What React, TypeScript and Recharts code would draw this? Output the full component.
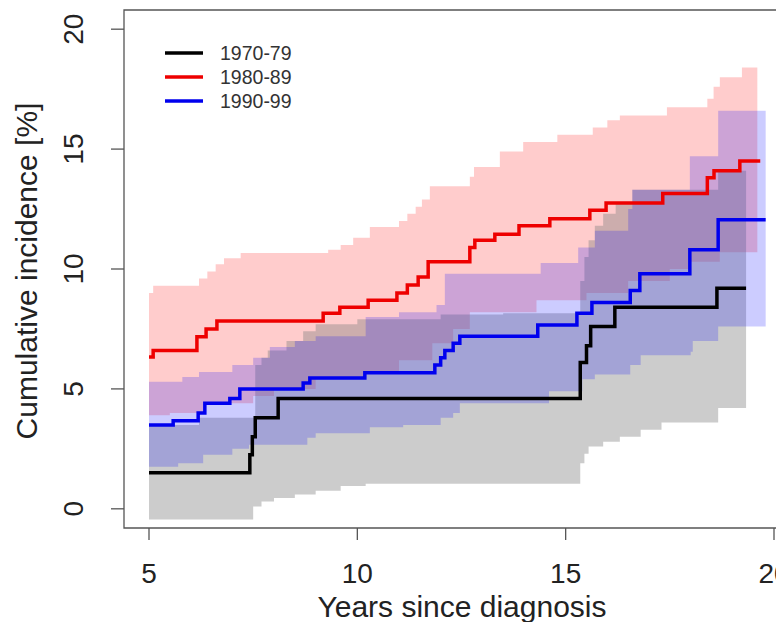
import { ComposedChart, Area, Line, XAxis, YAxis, ReferenceArea, Legend } from "recharts";

const FONT = '"Liberation Sans", Arial, sans-serif';

type Pt = [number, number];

const periods = ["1970-79", "1980-89", "1990-99"];
const lineColors = ["#000000", "#ee0000", "#0000ee"];
const xTicks = [5, 10, 15, 20];
const yTicks = [0, 5, 10, 15, 20];

// cumulative incidence step curves [years, %]
const line7079: Pt[] = [
  [5, 1.5], [7.42, 2.25], [7.48, 3.0], [7.55, 3.8], [8.1, 4.6], [15.35, 6.1], [15.5, 6.8],
  [15.6, 7.6], [16.18, 8.4], [18.63, 9.2], [19.33, 9.2],
];
const line8089: Pt[] = [
  [5, 6.33], [5.1, 6.6], [6.15, 7.17], [6.37, 7.5], [6.63, 7.83], [9.18, 8.15], [9.58, 8.4],
  [10.26, 8.7], [10.95, 9.0], [11.2, 9.33], [11.46, 9.67], [11.7, 10.3], [12.7, 10.9],
  [12.82, 11.2], [13.3, 11.45], [13.88, 11.8], [14.62, 12.1], [15.58, 12.45], [15.97, 12.75],
  [17.33, 13.15], [18.4, 13.8], [18.56, 14.1], [19.18, 14.5], [19.67, 14.5],
];
const line9099: Pt[] = [
  [5, 3.5], [5.58, 3.67], [6.18, 4.0], [6.34, 4.4], [6.94, 4.6], [7.18, 5.0], [8.7, 5.25],
  [8.86, 5.45], [10.18, 5.67], [11.86, 6.0], [12.0, 6.3], [12.1, 6.6], [12.3, 6.9],
  [12.46, 7.2], [14.33, 7.67], [15.27, 8.15], [15.63, 8.6], [16.55, 9.1], [16.78, 9.8],
  [17.98, 10.8], [18.66, 12.05], [19.8, 12.05],
];

// confidence bands, lower / upper step bounds
const lo7079: Pt[] = [
  [5, -0.45], [7.5, 0.1], [7.7, 0.3], [8.0, 0.45], [8.5, 0.6], [9.0, 0.75], [9.6, 0.95],
  [10.2, 1.05], [15.35, 1.9], [15.45, 2.3], [15.55, 2.6], [15.9, 2.8], [16.3, 3.0],
  [16.8, 3.3], [17.3, 3.6], [18.66, 4.2], [19.33, 4.2],
];
const hi7079: Pt[] = [
  [5, 3.5], [6.2, 3.8], [7.55, 6.0], [7.7, 6.3], [7.85, 6.6], [8.3, 7.0], [8.7, 7.4],
  [9.0, 7.7], [10.0, 7.9], [12.0, 8.1], [13.5, 8.15], [15.35, 9.5], [15.45, 10.5],
  [15.55, 11.2], [15.7, 11.8], [15.9, 12.3], [16.2, 12.75], [16.6, 13.3], [18.66, 14.1],
  [19.33, 14.1],
];
const lo8089: Pt[] = [
  [5, 3.9], [5.5, 4.0], [6.3, 4.4], [7.5, 4.7], [8.0, 5.0], [9.0, 5.4], [10.2, 5.7],
  [11.0, 6.2], [11.8, 6.9], [12.3, 7.5], [12.7, 8.2], [14.3, 8.7], [15.5, 9.0], [16.5, 9.5],
  [17.5, 10.0], [18.0, 10.3], [18.7, 10.7], [19.6, 10.7],
];
const hi8089: Pt[] = [
  [5, 9.0], [5.1, 9.3], [6.2, 9.6], [6.4, 9.9], [6.6, 10.2], [6.8, 10.45], [7.2, 10.67],
  [9.3, 10.8], [9.6, 11.0], [9.9, 11.3], [10.3, 11.75], [11.0, 12.0], [11.2, 12.3],
  [11.4, 12.6], [11.55, 12.9], [11.74, 13.45], [12.7, 13.85], [12.8, 14.25], [13.42, 14.9],
  [13.98, 15.3], [14.8, 15.6], [15.65, 15.9], [16.0, 16.2], [16.3, 16.4], [17.43, 16.75],
  [18.4, 17.1], [18.55, 17.6], [18.7, 18.0], [19.23, 18.4], [19.6, 18.4],
];
const lo9099: Pt[] = [
  [5, 1.75], [5.7, 1.9], [6.3, 2.25], [7.0, 2.5], [7.4, 2.67], [8.8, 2.96], [9.0, 3.15],
  [10.3, 3.4], [11.1, 3.5], [12.0, 3.8], [12.3, 4.0], [12.46, 4.4], [14.6, 4.9], [15.4, 5.4],
  [15.7, 5.6], [16.55, 6.0], [16.8, 6.4], [18.0, 6.55], [18.05, 7.0], [18.66, 7.6], [19.8, 7.6],
];
const hi9099: Pt[] = [
  [5, 5.3], [5.8, 5.5], [6.2, 5.7], [7.0, 6.0], [7.5, 6.3], [7.9, 6.75], [8.5, 7.0],
  [9.0, 7.2], [10.2, 8.0], [11.0, 8.2], [11.9, 8.5], [12.1, 9.8], [14.4, 10.25],
  [15.3, 10.9], [15.7, 11.6], [16.5, 12.5], [16.6, 13.3], [17.98, 14.7], [18.66, 16.6],
  [19.8, 16.6],
];

const stepAt = (pts: Pt[], x: number) => {
  let v = pts[0][1];
  for (const [px, py] of pts) {
    if (px <= x) v = py;
    else break;
  }
  return v;
};

// merge the two bounds into one range series
const toBand = (lo: Pt[], hi: Pt[]) => {
  const xs = Array.from(new Set([...lo, ...hi].map((p) => p[0]))).sort((a, b) => a - b);
  return xs.map((x) => ({ x, range: [stepAt(lo, x), stepAt(hi, x)] }));
};
const toLine = (pts: Pt[]) => pts.map(([x, y]) => ({ x, y }));

const XTick = ({ x, y, payload }: any) => (
  <text x={x} y={y} dy="0.71em" textAnchor="middle" fontSize={28} fontFamily={FONT} fill="#222">
    {payload.value}
  </text>
);

const YTick = ({ x, y, payload }: any) => (
  <text
    x={x}
    y={y}
    transform={`rotate(-90, ${x}, ${y})`}
    textAnchor="middle"
    fontSize={28}
    fontFamily={FONT}
    fill="#222"
  >
    {payload.value}
  </text>
);

const XTitle = () => (
  <text x={462} y={617} textAnchor="middle" fontSize={30} fontFamily={FONT} fill="#222">
    Years since diagnosis
  </text>
);

const YTitle = () => (
  <text
    x={37}
    y={271}
    transform="rotate(-90, 37, 271)"
    textAnchor="middle"
    fontSize={30}
    fontFamily={FONT}
    fill="#222"
  >
    Cumulative incidence [%]
  </text>
);

const LegendBox = () => (
  <div style={{ fontFamily: FONT, fontSize: 19.5, color: "#333" }}>
    {periods.map((p, i) => (
      <div key={p} style={{ display: "flex", alignItems: "center", height: 24 }}>
        <svg width={38} height={6} style={{ marginRight: 17 }}>
          <line x1={0} y1={3} x2={38} y2={3} stroke={lineColors[i]} strokeWidth={3.5} />
        </svg>
        <span>{p}</span>
      </div>
    ))}
  </div>
);

export default function App() {
  return (
    <div
      style={{
        position: "absolute",
        left: 0,
        top: 0,
        width: 776,
        height: 622,
        overflow: "hidden",
        background: "#fff",
      }}
    >
      <ComposedChart width={800} height={622} margin={{ top: 10, right: 1, bottom: 0, left: 0 }}>
        <XAxis
          type="number"
          dataKey="x"
          domain={[4.4, 20.6]}
          ticks={xTicks}
          interval={0}
          allowDataOverflow
          axisLine={false}
          tickLine={{ stroke: "#555", strokeWidth: 1.3 }}
          tickSize={12}
          tickMargin={23}
          height={94}
          tick={<XTick />}
          label={XTitle}
        />
        <YAxis
          type="number"
          domain={[-0.8, 20.8]}
          ticks={yTicks}
          interval={0}
          allowDataOverflow
          axisLine={false}
          tickLine={{ stroke: "#555", strokeWidth: 1.3 }}
          tickSize={13}
          tickMargin={28}
          width={124}
          tick={<YTick />}
          label={YTitle}
        />
        <Area
          data={toBand(lo8089, hi8089)}
          dataKey="range"
          type="stepAfter"
          fill="#ff0000"
          fillOpacity={0.2}
          stroke="none"
          legendType="none"
          isAnimationActive={false}
        />
        <Area
          data={toBand(lo7079, hi7079)}
          dataKey="range"
          type="stepAfter"
          fill="#808080"
          fillOpacity={0.4}
          stroke="none"
          legendType="none"
          isAnimationActive={false}
        />
        <Area
          data={toBand(lo9099, hi9099)}
          dataKey="range"
          type="stepAfter"
          fill="#0000ff"
          fillOpacity={0.2}
          stroke="none"
          legendType="none"
          isAnimationActive={false}
        />
        <Line
          data={toLine(line7079)}
          dataKey="y"
          type="stepAfter"
          stroke={lineColors[0]}
          strokeWidth={3.5}
          dot={false}
          isAnimationActive={false}
        />
        <Line
          data={toLine(line8089)}
          dataKey="y"
          type="stepAfter"
          stroke={lineColors[1]}
          strokeWidth={3.5}
          dot={false}
          isAnimationActive={false}
        />
        <Line
          data={toLine(line9099)}
          dataKey="y"
          type="stepAfter"
          stroke={lineColors[2]}
          strokeWidth={3.5}
          dot={false}
          isAnimationActive={false}
        />
        <ReferenceArea
          x1={4.4}
          x2={20.6}
          y1={-0.8}
          y2={20.8}
          fill="none"
          stroke="#555"
          strokeWidth={1.3}
          ifOverflow="visible"
        />
        <Legend
          layout="vertical"
          align="center"
          verticalAlign="middle"
          content={<LegendBox />}
          wrapperStyle={{ position: "absolute", left: 165, top: 41, width: 160, height: 80 }}
        />
      </ComposedChart>
    </div>
  );
}
